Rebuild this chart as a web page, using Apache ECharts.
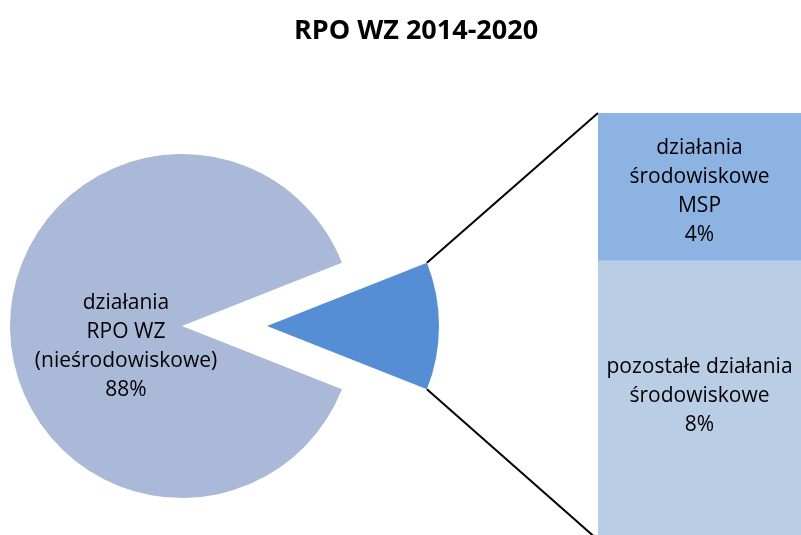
<!DOCTYPE html>
<html>
<head>
<meta charset="utf-8">
<script src="https://cdn.jsdelivr.net/npm/echarts@6/dist/echarts.min.js"></script>
<style>
  html, body { margin: 0; padding: 0; background: #fff; }
  #chart { width: 801px; height: 535px; }
</style>
</head>
<body>
<div id="chart"></div>
<script>
// values (percent of RPO WZ 2014-2020)
const mainName = 'działania\nRPO WZ\n(nieśrodowiskowe)';
const mainValue = 88;
// bar segments, bottom to top
const barNames = ['pozostałe działania\nśrodowiskowe', 'działania\nśrodowiskowe\nMSP'];
const barValues = [7.8, 4.2];
const barColors = ['#B9CDE5', '#8DB3E2'];

const otherValue = barValues.reduce((a, b) => a + b, 0);
const total = otherValue + mainValue;

const font = '"Open Sans", "Noto Sans", sans-serif';
const pieCenter = [182, 326];
const pieRadius = 172;
const explode = 85;
const halfAngle = otherValue / total * 180;
const grid = { left: 598, top: 113, width: 212, height: 427 };

const chart = echarts.init(document.getElementById('chart'));

// connector lines from the exploded wedge to the bar corners
const rad = halfAngle * Math.PI / 180;
const wx = pieCenter[0] + explode + pieRadius * Math.cos(rad);
const wyTop = pieCenter[1] - pieRadius * Math.sin(rad);
const wyBot = pieCenter[1] + pieRadius * Math.sin(rad);

const option = {
    animation: false,
    title: {
        text: 'RPO WZ 2014-2020',
        left: 411,
        textAlign: 'center',
        top: 13,
        textStyle: { fontFamily: font, fontSize: 27, fontWeight: 'bold', color: '#000' }
    },
    grid: grid,
    xAxis: { type: 'category', data: [''], show: false },
    yAxis: { type: 'value', min: 0, max: otherValue, show: false },
    series: [
        {
            type: 'pie',
            silent: true,
            center: pieCenter,
            radius: pieRadius,
            startAngle: halfAngle,
            clockwise: true,
            selectedMode: 'single',
            selectedOffset: explode,
            labelLine: { show: false },
            label: {
                position: 'inside',
                color: '#000',
                fontFamily: font,
                fontSize: 21,
                lineHeight: 29,
                formatter: p => p.name + '\n' + Math.round(p.value) + '%'
            },
            labelLayout: p => p.dataIndex === 1
                ? { x: 126, y: 347, align: 'center', verticalAlign: 'middle' }
                : {},
            data: [
                { name: 'działania środowiskowe', value: otherValue, selected: true,
                  itemStyle: { color: '#558ED5' }, label: { show: false } },
                { name: mainName, value: mainValue, itemStyle: { color: '#AAB9D7' } }
            ]
        },
        ...barValues.map((v, i) => ({
            type: 'bar',
            silent: true,
            stack: 'other',
            barWidth: '100%',
            name: barNames[i],
            data: [v],
            itemStyle: { color: barColors[i] },
            label: {
                show: true,
                position: 'inside',
                color: '#000',
                fontFamily: font,
                fontSize: 21,
                lineHeight: 29,
                offset: [0, i === 0 ? -2 : 5],
                formatter: p => barNames[i] + '\n' + Math.round(p.value) + '%'
            }
        }))
    ],
    graphic: [
        { type: 'line', shape: { x1: wx, y1: wyTop, x2: grid.left, y2: grid.top },
          style: { stroke: '#000', lineWidth: 2 } },
        { type: 'line', shape: { x1: wx, y1: wyBot, x2: grid.left, y2: grid.top + grid.height },
          style: { stroke: '#000', lineWidth: 2 } }
    ]
};

chart.setOption(option);
</script>
</body>
</html>
